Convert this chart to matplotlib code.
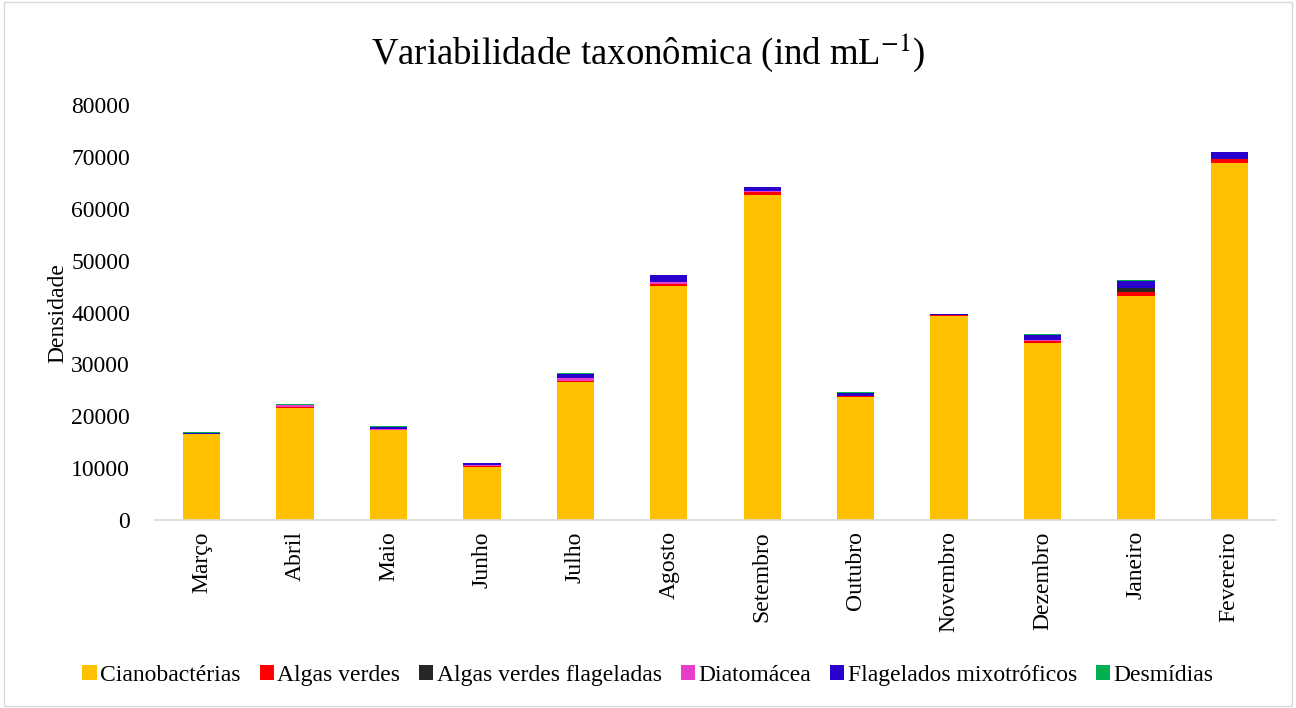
import numpy as np
import matplotlib
matplotlib.use("Agg")
import matplotlib.pyplot as plt
from matplotlib.patches import Rectangle

plt.rcParams['font.family'] = ['Liberation Serif', 'DejaVu Serif']
plt.rcParams['mathtext.fontset'] = 'stix'

# Data
meses = ["Março", "Abril", "Maio", "Junho", "Julho", "Agosto", "Setembro",
         "Outubro", "Novembro", "Dezembro", "Janeiro", "Fevereiro"]

cianobacterias = [16600, 21650, 17350, 10270, 26540, 45110, 62650, 23770, 39380, 34060, 43240, 68880]
algas_verdes = [50, 200, 100, 150, 250, 320, 520, 80, 80, 400, 710, 650]
algas_verdes_flag = [0, 0, 0, 0, 0, 0, 0, 0, 0, 0, 830, 0]
diatomacea = [30, 250, 100, 200, 580, 450, 190, 100, 0, 250, 0, 0]
flag_mixo = [180, 50, 400, 400, 770, 1350, 830, 500, 250, 900, 1350, 1350]
desmidias = [20, 150, 150, 50, 150, 50, 30, 150, 0, 200, 100, 50]

series = [
    ("Cianobactérias", cianobacterias, "#FFC000"),
    ("Algas verdes", algas_verdes, "#FF0000"),
    ("Algas verdes flageladas", algas_verdes_flag, "#262626"),
    ("Diatomácea", diatomacea, "#E83ECC"),
    ("Flagelados mixotróficos", flag_mixo, "#2A00CC"),
    ("Desmídias", desmidias, "#00B050"),
]

fig = plt.figure(figsize=(12.96, 7.08), dpi=100)
ax = fig.add_axes([0.1196, 0.2655, 0.865, 0.586])

x = np.arange(len(meses))
bottom = np.zeros(len(meses))
for nome, vals, cor in series:
    vals = np.array(vals, dtype=float)
    ax.bar(x, vals, 0.4, bottom=bottom, color=cor, label=nome)
    bottom += vals

ax.set_xlim(-0.5, len(meses) - 0.5)
ax.set_ylim(0, 80000)
ax.set_yticks(np.arange(0, 80001, 10000))
ax.set_xticks(x)
ax.set_xticklabels(meses, rotation=90, fontsize=17)
ax.tick_params(axis='y', labelsize=17, length=0, pad=18)
ax.tick_params(axis='x', length=0, pad=8)

for s in ["top", "right", "left"]:
    ax.spines[s].set_visible(False)
ax.spines["bottom"].set_color("#D9D9D9")
ax.spines["bottom"].set_linewidth(1.2)

ax.set_ylabel("Densidade", fontsize=17, labelpad=2)

fig.suptitle("Variabilidade taxonômica (ind mL$^{-1}$)", fontsize=26.5, y=0.955)

leg = fig.legend(loc="center", bbox_to_anchor=(0.5, 0.046), ncol=6, frameon=False,
                 fontsize=17, handlelength=0.6, handleheight=0.6,
                 handletextpad=0.15, columnspacing=0.8)

# Light gray frame around the figure
fig.patches.append(Rectangle((0.003, 0.003), 0.994, 0.994, transform=fig.transFigure,
                             fill=False, edgecolor="#D9D9D9", linewidth=1))

fig.savefig("out.png", dpi=100)
